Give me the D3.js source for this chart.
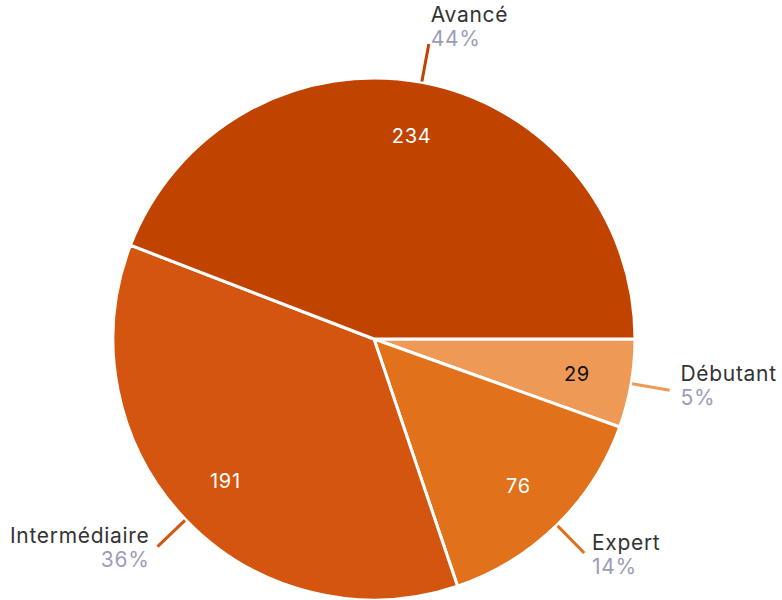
<!DOCTYPE html>
<html>
<head>
<meta charset="utf-8">
<script src="https://cdn.jsdelivr.net/npm/d3@7"></script>
<style>
body { margin: 0; background: #fff; }
svg { display: block; font-family: Inter, "Open Sans", sans-serif; letter-spacing: 0.7px; }
</style>
</head>
<body>
<svg id="chart" width="782" height="600"></svg>
<script>
// DATA
var levels = ['Débutant', 'Expert', 'Intermédiaire', 'Avancé'];
var counts = [29, 76, 191, 234];
var sliceColors = ['#EE9A56', '#E1711A', '#D4550F', '#C04400'];
var valueColors = ['#111111', '#ffffff', '#ffffff', '#ffffff'];

var cx = 374, cy = 339, radius = 261;
var total = d3.sum(counts);

var svg = d3.select('#chart');
var g = svg.append('g').attr('transform', 'translate(' + cx + ',' + cy + ')');

var pie = d3.pie()
	.sort(null)
	.value(function(d) { return d; })
	.startAngle(Math.PI / 2)
	.endAngle(Math.PI / 2 + 2 * Math.PI);

var arcs = pie(counts);
var arc = d3.arc().innerRadius(0).outerRadius(radius);
var labelArc = d3.arc().innerRadius(206).outerRadius(206);

//slices
g.selectAll('path.slice')
	.data(arcs)
	.enter().append('path')
	.attr('class', 'slice')
	.attr('d', arc)
	.attr('fill', function(d, i) { return sliceColors[i]; })
	.attr('stroke', '#fff')
	.attr('stroke-width', 3)
	.attr('stroke-linejoin', 'round');

function mid(d) { return (d.startAngle + d.endAngle) / 2; }

//values inside
g.selectAll('text.value')
	.data(arcs)
	.enter().append('text')
	.attr('class', 'value')
	.attr('transform', function(d) { return 'translate(' + labelArc.centroid(d) + ')'; })
	.attr('text-anchor', 'middle')
	.attr('dy', '.33em')
	.style('font-size', '20px')
	.style('fill', function(d, i) { return valueColors[i]; })
	.text(function(d) { return d.data; });

//leader lines
var r1 = radius + 1, r2 = 300;
g.selectAll('line.leader')
	.data(arcs)
	.enter().append('line')
	.attr('class', 'leader')
	.attr('x1', function(d) { return Math.sin(mid(d)) * r1; })
	.attr('y1', function(d) { return -Math.cos(mid(d)) * r1; })
	.attr('x2', function(d) { return Math.sin(mid(d)) * r2; })
	.attr('y2', function(d) { return -Math.cos(mid(d)) * r2; })
	.attr('stroke', function(d, i) { return sliceColors[i]; })
	.attr('stroke-width', 3);

//outer labels
var lbl = g.selectAll('g.outer')
	.data(arcs)
	.enter().append('g')
	.attr('class', 'outer')
	.attr('transform', function(d) {
		var a = mid(d);
		var x = Math.sin(a) * r2 + 11 * Math.sin(a);
		var y = -Math.cos(a) * r2 - 11 - 11.2 * Math.cos(a);
		return 'translate(' + x + ',' + y + ')';
	})
	.style('text-anchor', function(d) { return Math.sin(mid(d)) > 0 ? 'start' : 'end'; });

lbl.append('text')
	.style('font-size', '21px')
	.style('fill', '#333333')
	.text(function(d, i) { return levels[i]; });

lbl.append('text')
	.attr('y', 24)
	.style('font-size', '21px')
	.style('fill', '#9b9db8')
	.text(function(d) { return Math.round(d.data / total * 100) + '%'; });
</script>
</body>
</html>
